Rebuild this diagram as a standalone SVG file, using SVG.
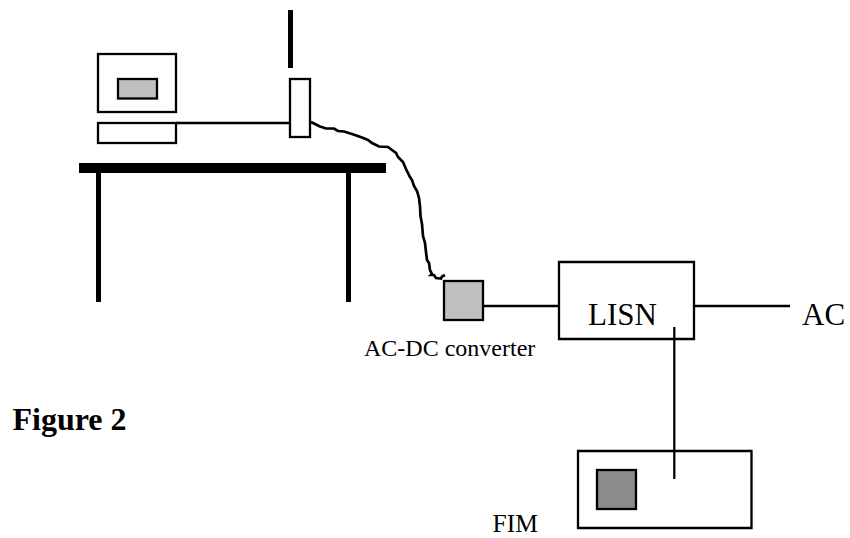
<svg xmlns="http://www.w3.org/2000/svg" width="850" height="538" viewBox="0 0 850 538">
<style>
.box{fill:#fff;stroke:#000;stroke-width:2.300}
.wire{fill:none;stroke:#000;stroke-width:2.300}
.thick{fill:#000;stroke:none}
.t{font-family:"Liberation Serif","Times New Roman",serif;fill:#000}
</style>
<rect width="850" height="538" fill="#fff"/>
<g id="table">
<rect class="thick" x="79" y="163" width="307" height="10"/>
<rect class="thick" x="96" y="173" width="5" height="129"/>
<rect class="thick" x="346" y="173" width="5" height="129"/>
</g>
<g id="monitor">
<rect class="box" x="98" y="54" width="78" height="58"/>
<rect class="box" x="118" y="79" width="39" height="19.500" style="fill:#c0c0c0"/>
</g>
<g id="keyboard"><rect class="box" x="98" y="123" width="78" height="20"/></g>
<g id="connectors">
<path class="wire" style="stroke-width:2.700" d="M311 122L316 124.500L320 126.500L326 128.500L334 128.500L338 131L344 131.500L352 134L362 137.500L368 140L372 143L379 146.500L388 147L392 150L396 153L398 157L403 162L406 169L410 177L412 180L414 186L417 191L419 198L420 206L420.500 216L422 224L423 236L425 243L426 252L427 260L429 263L430 270L432 274L431 275L434 275L436 278L441 278.500L442 276.500L445 275"/>
<path class="wire" d="M176 123H290"/>
<path class="wire" d="M483 306H558"/>
<path class="wire" d="M694 306H790"/>
<path class="wire" d="M674.300 327V479"/>
</g>
<g id="antenna">
<rect class="thick" x="288" y="10" width="5" height="58"/>
<rect class="box" x="290" y="79" width="20" height="58"/>
</g>
<g id="converter">
<rect class="box" x="444" y="281" width="39" height="39" style="fill:#c0c0c0"/>
<text class="t" x="364" y="355.500" font-size="24">AC-DC converter</text>
</g>
<g id="lisn">
<path class="box" d="M559 262H694V339H559Z" style="fill:none"/>
<text class="t" x="588" y="325" font-size="31">LISN</text>
</g>
<text class="t" x="802" y="325" font-size="31">AC</text>
<text class="t" x="12.500" y="430" font-size="32" font-weight="bold">Figure 2</text>
<g id="fim">
<path class="box" d="M578 451H751.500V528H578Z" style="fill:none"/>
<rect class="box" x="597" y="470" width="39" height="39" style="fill:#8c8c8c"/>
<text class="t" x="492.500" y="532.400" font-size="25.500">FIM</text>
</g>
</svg>
